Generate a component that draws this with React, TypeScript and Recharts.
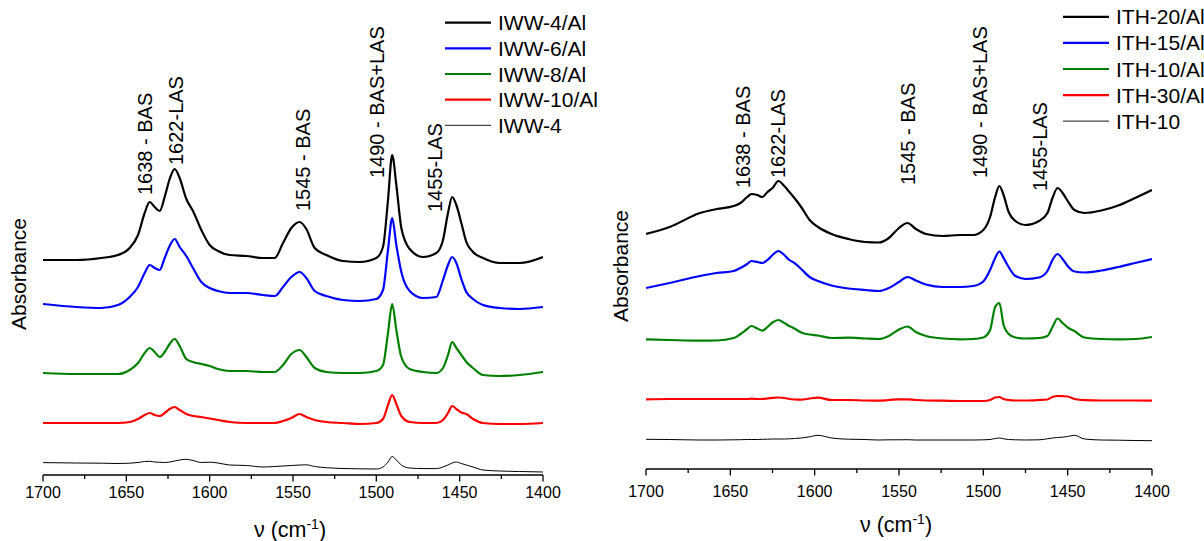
import React from 'react'
import { LineChart, Line, XAxis, YAxis } from 'recharts'

const FONT = '"Liberation Sans", Arial, Helvetica, sans-serif'

// ---- left panel: IWW samples (wavenumber in cm-1, absorbance with stacking offset)
const IWW_WN = [
  1700, 1680, 1665, 1655, 1648, 1643, 1639, 1636, 1633, 1630,
  1627, 1624, 1621, 1618, 1614, 1610, 1605, 1600, 1595, 1588,
  1578, 1568, 1561, 1556, 1551, 1546, 1542, 1537, 1530, 1520,
  1510, 1500, 1496, 1493, 1490.5, 1488, 1485, 1480, 1472, 1464,
  1460, 1457, 1454.5, 1452, 1449, 1446, 1442, 1436, 1426, 1414,
  1400,
]
const IWW4_AL = [
  2.15, 2.15, 2.17, 2.2, 2.27, 2.4, 2.62, 2.73, 2.68, 2.64,
  2.78, 2.96, 3.06, 2.97, 2.76, 2.64, 2.45, 2.3, 2.24, 2.2,
  2.19, 2.17, 2.17, 2.32, 2.47, 2.53, 2.46, 2.27, 2.2, 2.14,
  2.13, 2.17, 2.28, 2.75, 3.2, 2.9, 2.47, 2.26, 2.18, 2.22,
  2.35, 2.62, 2.78, 2.7, 2.52, 2.33, 2.23, 2.17, 2.12, 2.12,
  2.18,
]
const IWW6_AL = [
  1.71, 1.68, 1.67, 1.7, 1.78, 1.88, 2.02, 2.1, 2.07, 2.05,
  2.17, 2.29, 2.36, 2.28, 2.19, 2.07, 1.93, 1.87, 1.84, 1.82,
  1.82, 1.8, 1.79, 1.88, 1.98, 2.03, 1.97, 1.84, 1.79, 1.75,
  1.74, 1.76, 1.85, 2.25, 2.57, 2.3, 2.03, 1.84, 1.77, 1.78,
  1.95, 2.1, 2.18, 2.12, 1.96, 1.83, 1.76, 1.7, 1.67, 1.66,
  1.68,
]
const IWW8_AL = [
  1.02, 1.01, 1.01, 1.01, 1.05, 1.12, 1.22, 1.27, 1.23, 1.18,
  1.23, 1.31, 1.36, 1.29, 1.16, 1.13, 1.11, 1.09, 1.06, 1.04,
  1.04, 1.03, 1.03, 1.1, 1.21, 1.25, 1.18, 1.07, 1.03, 1.02,
  1.02, 1.04, 1.1, 1.42, 1.71, 1.45, 1.18, 1.06, 1.03, 1.02,
  1.07, 1.2, 1.33, 1.27, 1.2, 1.13, 1.07, 1.0, 0.99, 1.0,
  1.03,
]
const IWW10_AL = [
  0.52, 0.52, 0.52, 0.52, 0.53, 0.56, 0.6, 0.62, 0.6, 0.59,
  0.62, 0.66, 0.68, 0.65, 0.61, 0.59, 0.58, 0.565, 0.55, 0.53,
  0.52, 0.52, 0.52, 0.54, 0.57, 0.61, 0.58, 0.55, 0.53, 0.52,
  0.51, 0.52, 0.56, 0.7, 0.8, 0.71, 0.59, 0.53, 0.52, 0.52,
  0.55, 0.62, 0.69, 0.66, 0.625, 0.61, 0.56, 0.52, 0.51, 0.51,
  0.52,
]
const IWW4 = [
  0.124, 0.12, 0.118, 0.115, 0.118, 0.125, 0.135, 0.137, 0.13, 0.127,
  0.125, 0.13, 0.14, 0.15, 0.157, 0.145, 0.125, 0.128, 0.12, 0.1,
  0.095, 0.08, 0.085, 0.09, 0.095, 0.1, 0.102, 0.085, 0.073, 0.065,
  0.062, 0.06, 0.08, 0.13, 0.185, 0.15, 0.1, 0.07, 0.064, 0.064,
  0.08, 0.1, 0.12, 0.13, 0.115, 0.1, 0.08, 0.05, 0.04, 0.035,
  0.03,
]

// ---- right panel: ITH samples
const ITH_WN = [
  1700, 1686, 1668, 1658, 1648, 1644, 1640, 1637.5, 1634, 1631,
  1628, 1625, 1621.5, 1618, 1615, 1612, 1608, 1603, 1598, 1590,
  1580, 1570, 1562, 1556, 1550, 1545, 1540, 1534, 1524, 1514,
  1506, 1500, 1496, 1493, 1490.5, 1488, 1485, 1481, 1475, 1467,
  1462, 1459, 1456, 1453, 1450, 1446, 1440, 1430, 1420, 1410,
  1400,
]
const ITH20_AL = [
  2.35, 2.42, 2.56, 2.6, 2.63, 2.66, 2.72, 2.75, 2.74, 2.72,
  2.77, 2.81, 2.88, 2.83, 2.77, 2.71, 2.62, 2.49, 2.42, 2.35,
  2.3, 2.27, 2.265, 2.31, 2.41, 2.46, 2.4, 2.35, 2.33, 2.34,
  2.34, 2.39, 2.52, 2.72, 2.83, 2.74, 2.57, 2.48, 2.44, 2.48,
  2.56, 2.71, 2.81, 2.76, 2.68, 2.59, 2.56, 2.585, 2.635, 2.71,
  2.79,
]
const ITH15_AL = [
  1.81, 1.86, 1.93, 1.96, 1.98, 2.01, 2.05, 2.08, 2.07, 2.06,
  2.09, 2.14, 2.18, 2.14, 2.09, 2.06, 2.0, 1.92, 1.88, 1.835,
  1.805, 1.79, 1.78, 1.81, 1.87, 1.92, 1.885, 1.845, 1.82, 1.82,
  1.83, 1.875, 1.99, 2.11, 2.175, 2.11, 2.02, 1.93, 1.9, 1.915,
  1.98, 2.09, 2.15, 2.1, 2.03, 1.975, 1.965, 1.985, 2.02, 2.06,
  2.1,
]
const ITH10_AL = [
  1.297, 1.29, 1.283, 1.285, 1.31, 1.35, 1.4, 1.43, 1.405, 1.383,
  1.42, 1.465, 1.49, 1.46, 1.43, 1.405, 1.365, 1.345, 1.335, 1.31,
  1.313, 1.305, 1.3, 1.33, 1.395, 1.425, 1.37, 1.33, 1.305, 1.297,
  1.3, 1.315, 1.39, 1.62, 1.66, 1.44, 1.35, 1.315, 1.305, 1.31,
  1.33, 1.42, 1.505, 1.46, 1.415, 1.38, 1.315, 1.3, 1.297, 1.3,
  1.32,
]
const ITH30_AL = [
  0.697, 0.7, 0.7, 0.7, 0.7, 0.7, 0.7, 0.703, 0.7, 0.7,
  0.705, 0.712, 0.715, 0.71, 0.7, 0.695, 0.693, 0.705, 0.713, 0.69,
  0.69, 0.685, 0.683, 0.69, 0.697, 0.697, 0.69, 0.685, 0.683, 0.68,
  0.68, 0.68, 0.69, 0.715, 0.72, 0.7, 0.69, 0.685, 0.685, 0.69,
  0.695, 0.72, 0.73, 0.728, 0.725, 0.7, 0.688, 0.685, 0.685, 0.685,
  0.683,
]
const ITH10 = [
  0.297, 0.295, 0.29, 0.29, 0.292, 0.293, 0.295, 0.295, 0.295, 0.297,
  0.298, 0.3, 0.3, 0.3, 0.302, 0.305, 0.31, 0.322, 0.337, 0.31,
  0.298, 0.295, 0.29, 0.292, 0.292, 0.293, 0.29, 0.29, 0.29, 0.29,
  0.29, 0.292, 0.295, 0.305, 0.31, 0.302, 0.295, 0.292, 0.29, 0.292,
  0.302, 0.31, 0.315, 0.318, 0.325, 0.337, 0.3, 0.29, 0.288, 0.285,
  0.283,
]

const X_TICKS = [1700, 1675, 1650, 1625, 1600, 1575, 1550, 1525, 1500, 1475, 1450, 1425, 1400]
const BANDS = ['1638 - BAS', '1622-LAS', '1545 - BAS', '1490 - BAS+LAS', '1455-LAS']

type Series = { key: string; name: string; values: number[]; color: string; width: number; legendColor: string }

const IWW_SERIES: Series[] = [
  { key: 's1', name: 'IWW-4/Al', values: IWW4_AL, color: '#000000', width: 2.2, legendColor: '#000000' },
  { key: 's2', name: 'IWW-6/Al', values: IWW6_AL, color: '#0000ff', width: 2.2, legendColor: '#0000ff' },
  { key: 's3', name: 'IWW-8/Al', values: IWW8_AL, color: '#008000', width: 2.2, legendColor: '#008000' },
  { key: 's4', name: 'IWW-10/Al', values: IWW10_AL, color: '#ff0000', width: 2.2, legendColor: '#ff0000' },
  { key: 's5', name: 'IWW-4', values: IWW4, color: '#000000', width: 1, legendColor: '#444444' },
]
const ITH_SERIES: Series[] = [
  { key: 's1', name: 'ITH-20/Al', values: ITH20_AL, color: '#000000', width: 2.2, legendColor: '#000000' },
  { key: 's2', name: 'ITH-15/Al', values: ITH15_AL, color: '#0000ff', width: 2.2, legendColor: '#0000ff' },
  { key: 's3', name: 'ITH-10/Al', values: ITH10_AL, color: '#008000', width: 2.2, legendColor: '#008000' },
  { key: 's4', name: 'ITH-30/Al', values: ITH30_AL, color: '#ff0000', width: 2.2, legendColor: '#ff0000' },
  { key: 's5', name: 'ITH-10', values: ITH10, color: '#000000', width: 1, legendColor: '#444444' },
]

const buildRows = (wn: number[], series: Series[]) =>
  wn.map((w, i) => {
    const row: Record<string, number> = { wn: w }
    series.forEach((s) => (row[s.key] = s.values[i]))
    return row
  })

function WnTick(props: any) {
  const { x, y, payload, labelDy } = props
  const major = payload.value % 50 === 0
  return (
    <g>
      <line x1={x} x2={x} y1={y} y2={y + (major ? 6.5 : 4)} stroke="#000" strokeWidth={1.3} />
      {major && (
        <text x={x} y={y + labelDy} textAnchor="middle" fontSize={16} fontFamily={FONT} fill="#000">
          {payload.value}
        </text>
      )}
    </g>
  )
}

function XTitle({ viewBox, dy }: any) {
  const cx = viewBox.x + viewBox.width / 2 - 3
  return (
    <text x={cx} y={viewBox.y + dy} textAnchor="middle" fontSize={21.5} fontFamily={FONT} fill="#000">
      ν (cm
      <tspan fontSize={14} dy={-8}>-1</tspan>
      <tspan dy={8}>)</tspan>
    </text>
  )
}

type PanelProps = {
  left: number
  width: number
  wn: number[]
  series: Series[]
  margin: { top: number; right: number; bottom: number; left: number }
  yMax: number
  labelDy: number
  titleDy: number
}

function Panel({ left, width, wn, series, margin, yMax, labelDy, titleDy }: PanelProps) {
  const rows = buildRows(wn, series)
  return (
    <div style={{ position: 'absolute', left, top: 0 }}>
      <LineChart width={width} height={541} data={rows} margin={margin}>
        <XAxis
          dataKey="wn"
          type="number"
          domain={[1400, 1700]}
          reversed
          ticks={X_TICKS}
          interval={0}
          height={30}
          tickSize={0}
          tickMargin={0}
          tickLine={false}
          axisLine={{ stroke: '#000', strokeWidth: 1.5 }}
          tick={<WnTick labelDy={labelDy} />}
          label={{ content: (p: any) => <XTitle {...p} dy={titleDy} /> }}
          allowDataOverflow
        />
        <YAxis
          type="number"
          domain={[0, yMax]}
          width={0}
          tick={false}
          tickLine={false}
          axisLine={{ stroke: '#000', strokeWidth: 1.5 }}
          allowDataOverflow
        />
        {series.map((s) => (
          <Line
            key={s.key}
            dataKey={s.key}
            name={s.name}
            type="monotone"
            stroke={s.color}
            strokeWidth={s.width}
            dot={false}
            activeDot={false}
            isAnimationActive={false}
          />
        ))}
      </LineChart>
    </div>
  )
}

function LegendBlock({ series, x, y0, step }: { series: Series[]; x: number; y0: number; step: number }) {
  return (
    <g>
      {series.map((s, i) => {
        const cy = y0 + i * step
        return (
          <g key={s.key}>
            <line x1={x} x2={x + 46} y1={cy} y2={cy} stroke={s.legendColor} strokeWidth={s.width === 1 ? 1.2 : 2.2} />
            <text x={x + 53} y={cy + 7.5} fontSize={21} fontFamily={FONT} fill="#000">
              {s.name}
            </text>
          </g>
        )
      })}
    </g>
  )
}

function BandLabels({ spots }: { spots: [number, number][] }) {
  return (
    <g>
      {BANDS.map((b, i) => (
        <text
          key={b}
          transform={`translate(${spots[i][0]},${spots[i][1]}) rotate(-90)`}
          fontSize={20}
          fontFamily={FONT}
          fill="#000"
        >
          {b}
        </text>
      ))}
    </g>
  )
}

export default function App() {
  return (
    <div style={{ position: 'absolute', left: 0, top: 0, width: 1204, height: 541, background: '#fff', overflow: 'hidden' }}>
      <Panel
        left={0}
        width={600}
        wn={IWW_WN}
        series={IWW_SERIES}
        margin={{ top: 72, right: 57, bottom: 36, left: 43 }}
        yMax={4.03}
        labelDy={22.5}
        titleDy={62}
      />
      <Panel
        left={600}
        width={604}
        wn={ITH_WN}
        series={ITH_SERIES}
        margin={{ top: 62, right: 52, bottom: 42, left: 46 }}
        yMax={4.07}
        labelDy={27.5}
        titleDy={63}
      />
      <svg width={1204} height={541} style={{ position: 'absolute', left: 0, top: 0, pointerEvents: 'none' }}>
        <text transform="translate(26,274) rotate(-90)" textAnchor="middle" fontSize={21} fontFamily={FONT} fill="#000">
          Absorbance
        </text>
        <text transform="translate(628,266) rotate(-90)" textAnchor="middle" fontSize={21} fontFamily={FONT} fill="#000">
          Absorbance
        </text>
        <BandLabels spots={[[151.5, 195], [183, 165], [309.5, 211], [383.5, 178], [442, 212]]} />
        <BandLabels spots={[[750, 188], [785, 178], [915, 185], [987, 178], [1047, 191]]} />
        <LegendBlock series={IWW_SERIES} x={445} y0={22.7} step={25.65} />
        <LegendBlock series={ITH_SERIES} x={1063} y0={16.8} step={26.1} />
      </svg>
    </div>
  )
}
